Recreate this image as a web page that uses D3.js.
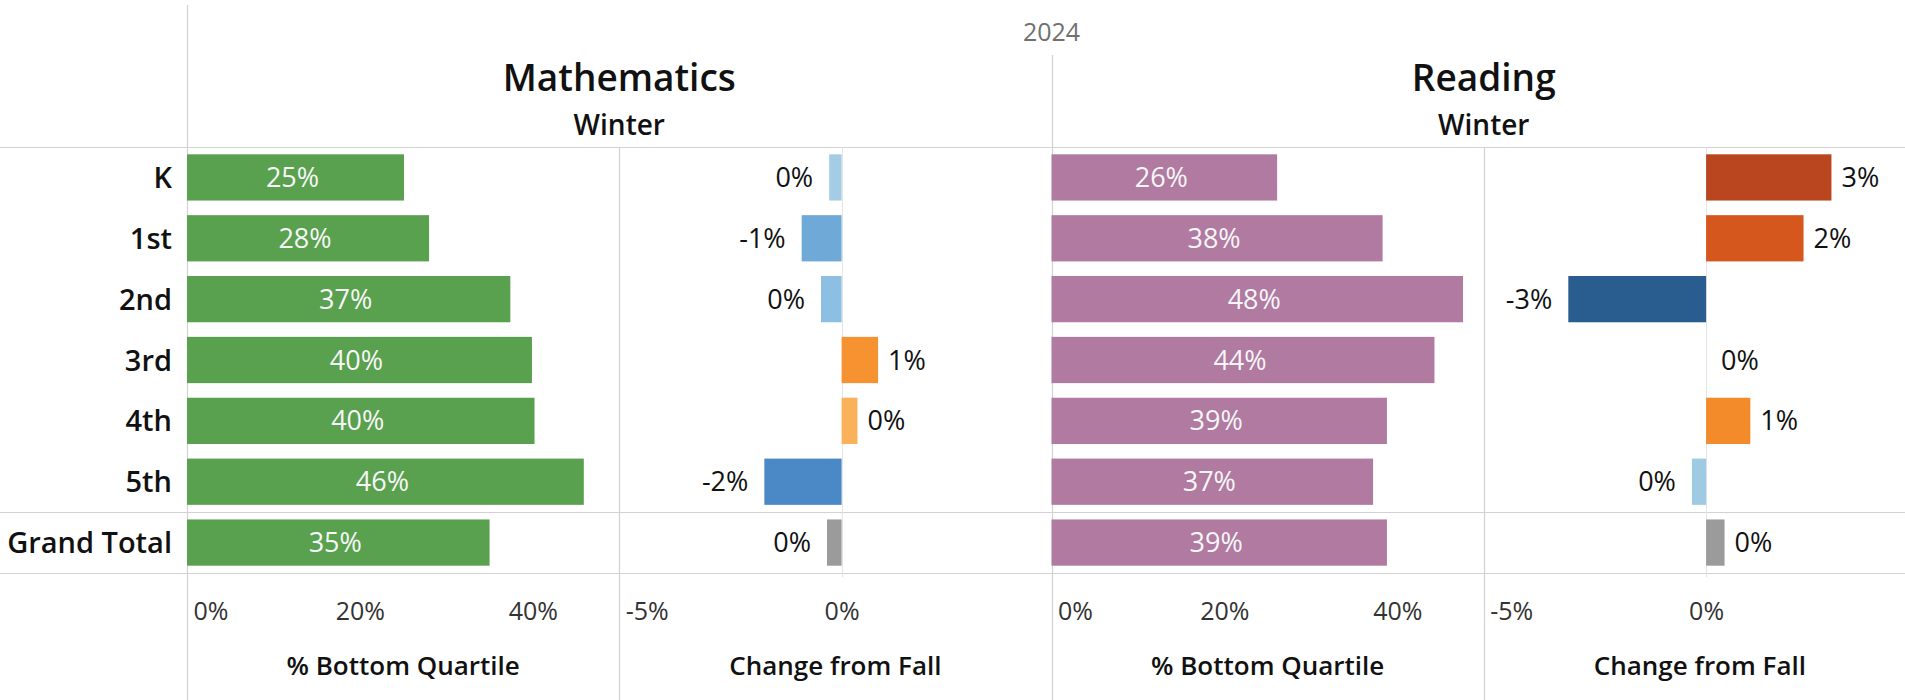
<!DOCTYPE html>
<html>
<head>
<meta charset="utf-8">
<script src="https://cdn.jsdelivr.net/npm/d3@7"></script>
<style>
  html, body { margin: 0; padding: 0; background: #fff; overflow: hidden; }
  svg { display: block; font-family: "Open Sans", "Noto Sans", sans-serif; }
</style>
</head>
<body>
<svg id="chart" width="1905" height="700"></svg>
<script>
// Grade rows (last row is the grand total)
const grades = ["K", "1st", "2nd", "3rd", "4th", "5th", "Grand Total"];
const totalRow = "Grand Total";

// Share of students in the bottom quartile, Winter 2024 (%)
const mathPct    = [25.1, 28.0, 37.4, 39.9, 40.2, 45.9, 35.0];
const readingPct = [26.1, 38.3, 47.6, 44.3, 38.8, 37.2, 38.8];

// Change from Fall, percentage points
const mathChange    = [-0.29, -0.93, -0.48, 0.85, 0.37, -1.80, -0.34];
const readingChange = [2.92, 2.27, -3.21, 0.00, 1.03, -0.33, 0.43];

// Headers and axis text
const yearLabel = "2024";
const subjects = ["Mathematics", "Reading"];
const termLabel = "Winter";
const pctTitle = "% Bottom Quartile";
const changeTitle = "Change from Fall";
const pctTicks = [0, 20, 40];
const changeTicks = [-5, 0];
const pctDomain = [0, 50];
const changeDomain = [-5.18, 4.89];

// Diverging palette for change bars
const changeStops  = [-3.3, -1.8, -0.9, -0.45, -0.25, 0.35, 0.9, 2.3, 3.0];
const changeColors = ["#27598b", "#4a88c6", "#6faad8", "#8ec0e2", "#a9d0e6",
                      "#f9b25c", "#f6902c", "#d4561d", "#b5441e"];

const W = 1905, H = 700;
const svg = d3.select("#chart");
const fmt = v => `${Math.round(v) || 0}%`;
const lineColor = "#d2d2d2";

// Pane layout: four panes across the data area
const paneKeys = ["mPct", "mChg", "rPct", "rChg"];
const xPane = d3.scaleBand().domain(paneKeys).range([187, 1916]);
const paneLeft = k => xPane(k);
const paneW = xPane.bandwidth();

const yTop = 147, yBottom = 573;
const y = d3.scaleBand().domain(grades).range([yTop, yBottom])
  .paddingInner(0.24).paddingOuter(0.12);
const ySep = yTop + (grades.length - 1) * y.step();

const greenColor = "#59a14f", pinkColor = "#b07aa1", totalColor = "#9b9b9b";
const changeColor = d3.scaleLinear().domain(changeStops).range(changeColors).clamp(true);

// ---- grid lines ----
const grid = svg.append("g");
[yTop, ySep, yBottom].forEach(yy => {
  grid.append("line").attr("x1", 0).attr("x2", W)
    .attr("y1", Math.round(yy) + 0.5).attr("y2", Math.round(yy) + 0.5)
    .attr("stroke", lineColor).attr("stroke-width", 1.2);
});
const vLines = [
  { x: paneLeft("mPct"), y1: 5 },
  { x: paneLeft("mChg"), y1: yTop },
  { x: paneLeft("rPct"), y1: 55 },
  { x: paneLeft("rChg"), y1: yTop }
];
vLines.forEach(v => {
  grid.append("line").attr("x1", Math.round(v.x) + 0.5).attr("x2", Math.round(v.x) + 0.5)
    .attr("y1", v.y1).attr("y2", H)
    .attr("stroke", lineColor).attr("stroke-width", 1.2);
});

// ---- headers ----
const hdr = svg.append("g").attr("text-anchor", "middle");
hdr.append("text").attr("x", (187 + 1916) / 2).attr("y", 41)
  .attr("font-size", 25).attr("fill", "#707070").text(yearLabel);
[["mPct", "mChg"], ["rPct", "rChg"]].forEach((pair, i) => {
  const cx = (paneLeft(pair[0]) + paneLeft(pair[1]) + paneW) / 2;
  hdr.append("text").attr("x", cx).attr("y", 91)
    .attr("font-size", 37).attr("font-weight", 600).attr("fill", "#111").text(subjects[i]);
  hdr.append("text").attr("x", cx).attr("y", 135)
    .attr("font-size", 28).attr("font-weight", 600).attr("fill", "#111").text(termLabel);
});

// ---- row labels ----
svg.append("g").selectAll("text").data(grades).join("text")
  .attr("x", 172).attr("y", d => y(d) + y.bandwidth() / 2 + 10.5)
  .attr("text-anchor", "end").attr("font-size", 29).attr("font-weight", 600).attr("fill", "#111")
  .text(d => d);

// ---- bottom quartile panes ----
function pctPane(key, values, color) {
  const x0 = paneLeft(key);
  const x = d3.scaleLinear().domain(pctDomain).range([x0, x0 + paneW]);
  const g = svg.append("g");
  const rows = grades.map((gr, i) => ({ gr, v: values[i] }));
  g.selectAll("rect").data(rows).join("rect")
    .attr("x", x(0)).attr("y", d => y(d.gr))
    .attr("width", d => x(d.v) - x(0)).attr("height", y.bandwidth())
    .attr("fill", color);
  g.selectAll("text").data(rows).join("text")
    .attr("x", d => (x(0) + x(d.v)) / 2 - 3)
    .attr("y", d => y(d.gr) + y.bandwidth() / 2 + 9.5)
    .attr("text-anchor", "middle").attr("font-size", 27).attr("fill", "#f6f6f6")
    .text(d => fmt(d.v));
  drawAxis(x, pctTicks, x0, pctTitle);
}

// ---- change panes ----
function changePane(key, values) {
  const x0 = paneLeft(key);
  const x = d3.scaleLinear().domain(changeDomain).range([x0, x0 + paneW]);
  const g = svg.append("g");
  // zero reference line
  g.append("line").attr("x1", Math.round(x(0)) + 0.5).attr("x2", Math.round(x(0)) + 0.5)
    .attr("y1", yTop).attr("y2", yBottom + 4).attr("stroke", "#e4e4e4").attr("stroke-width", 1);
  const rows = grades.map((gr, i) => ({ gr, v: values[i] }));
  g.selectAll("rect").data(rows).join("rect")
    .attr("x", d => x(Math.min(0, d.v))).attr("y", d => y(d.gr))
    .attr("width", d => Math.abs(x(d.v) - x(0))).attr("height", y.bandwidth())
    .attr("fill", d => d.gr === totalRow ? totalColor : changeColor(d.v));
  g.selectAll("text").data(rows).join("text")
    .attr("x", d => d.v < 0 ? x(d.v) - 16 : x(d.v) + (d.v === 0 ? 15 : 10))
    .attr("y", d => y(d.gr) + y.bandwidth() / 2 + 9.5)
    .attr("text-anchor", d => d.v < 0 ? "end" : "start")
    .attr("font-size", 27).attr("font-weight", 500).attr("fill", "#111")
    .text(d => fmt(d.v));
  drawAxis(x, changeTicks, x0, changeTitle);
}

// ---- bottom axis for a pane ----
function drawAxis(x, ticks, x0, title) {
  const ax = svg.append("g").attr("transform", `translate(0,${yBottom})`)
    .call(d3.axisBottom(x).tickValues(ticks).tickSize(0).tickPadding(0).tickFormat(fmt));
  ax.select(".domain").remove();
  ax.selectAll("text")
    .attr("y", 47).attr("dy", null)
    .attr("font-size", 25).attr("font-family", "Open Sans, sans-serif")
    .attr("fill", "#333");
  // keep edge labels inside the pane
  ax.selectAll(".tick").each(function (d) {
    const t = d3.select(this).select("text");
    const w = t.node().getComputedTextLength();
    const px = x(d);
    if (px - w / 2 < x0 + 6) {
      t.attr("text-anchor", "start").attr("x", x0 + 6 - px);
    }
  });
  svg.append("text").attr("x", x0 + paneW / 2).attr("y", 675)
    .attr("text-anchor", "middle").attr("font-size", 26).attr("font-weight", 600).attr("fill", "#111")
    .text(title);
}

pctPane("mPct", mathPct, greenColor);
changePane("mChg", mathChange);
pctPane("rPct", readingPct, pinkColor);
changePane("rChg", readingChange);
</script>
</body>
</html>
